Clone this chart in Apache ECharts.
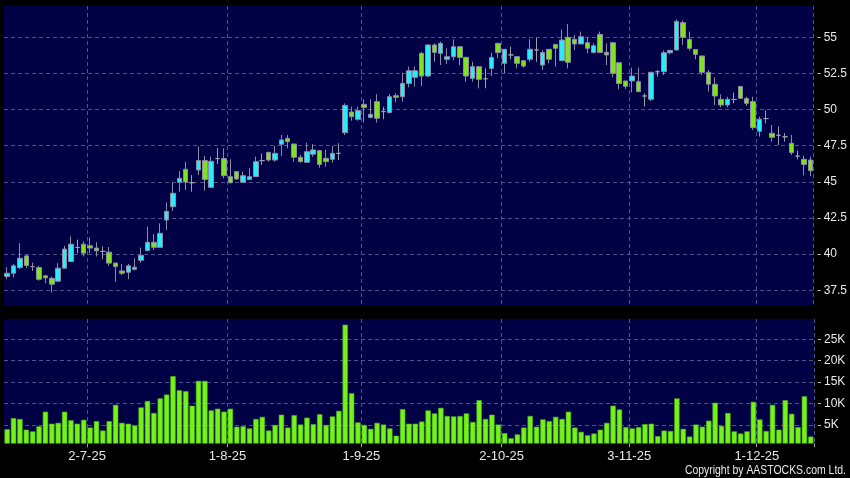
<!DOCTYPE html>
<html>
<head>
<meta charset="utf-8">
<script src="https://cdn.jsdelivr.net/npm/echarts@6/dist/echarts.min.js"></script>
<style>
html,body{margin:0;padding:0;background:#000;}
#chart{width:850px;height:478px;}
</style>
</head>
<body>
<div id="chart"></div>
<script>
// daily candles, 127 trading days (12-6-25 .. 11-12-25)
const opens = [38.45,38.68,39.07,39.88,39.15,39.07,38.50,38.33,38.13,39.03,39.49,40.46,40.69,40.58,40.42,40.19,40.14,39.38,38.84,38.75,
  38.95,39.57,40.24,40.82,40.47,42.36,43.28,44.97,45.87,44.94,45.82,46.47,44.62,46.61,46.61,45.36,45.71,44.97,45.17,45.36,
  46.47,47.04,46.51,47.60,48.01,47.62,46.70,46.35,46.91,47.16,46.63,46.56,46.97,48.40,49.83,49.33,50.36,49.46,50.55,49.86,
  49.79,50.96,50.89,51.81,52.23,53.89,52.32,54.47,53.89,53.48,53.66,54.35,53.61,52.16,52.97,52.13,52.85,54.58,53.20,53.78,
  53.66,53.38,53.48,54.12,53.08,54.17,54.51,53.38,55.00,54.86,54.54,54.63,53.94,55.20,53.96,54.63,53.24,51.98,51.98,51.93,
  50.94,50.71,52.62,52.62,53.93,54.12,56.01,54.85,54.15,53.71,52.58,51.75,50.71,50.32,50.70,51.60,50.76,50.55,48.50,49.38,
  48.36,48.22,48.12,47.67,46.78,46.56,46.51];
const closes = [38.68,39.19,39.72,39.21,39.13,38.26,38.36,37.92,39.03,40.35,40.69,40.46,40.07,40.42,40.23,40.19,39.38,39.14,38.68,39.19,
  39.10,39.92,40.82,40.47,41.44,42.96,44.21,45.25,44.99,44.94,46.47,45.17,46.42,46.61,45.43,44.94,45.20,45.43,45.36,46.40,
  46.47,46.51,46.97,47.90,47.78,46.70,46.40,47.09,47.21,46.21,46.40,46.97,46.97,50.29,49.51,49.93,50.15,49.67,49.40,49.86,
  50.89,50.85,51.81,52.69,52.69,52.32,54.47,53.96,54.58,53.66,54.35,53.61,52.32,52.97,52.09,52.13,53.61,53.94,54.17,53.78,
  53.20,53.01,54.17,54.12,53.94,53.48,54.24,54.81,53.27,54.54,55.04,54.24,54.42,53.94,53.78,52.51,51.80,51.61,52.32,51.24,
  50.94,52.58,52.62,53.93,54.09,56.10,55.00,54.24,53.82,52.58,51.76,50.94,50.32,50.71,50.70,50.78,50.43,48.75,49.33,49.38,
  48.08,48.22,48.12,47.02,46.78,46.21,45.77];
const lows = [38.26,38.40,38.96,39.03,38.84,38.17,37.99,37.34,38.13,39.03,39.49,40.07,39.84,40.07,39.84,39.65,39.19,38.10,38.56,38.26,
  38.86,39.39,40.24,40.29,40.47,41.67,43.00,44.32,44.44,44.32,45.47,44.39,44.62,46.24,45.25,44.90,45.13,44.97,45.17,45.36,
  46.17,46.40,46.40,46.79,47.32,46.40,46.33,46.35,46.74,45.98,46.05,46.33,46.51,48.24,49.23,49.23,49.10,49.40,49.10,49.33,
  49.74,50.50,50.55,51.54,51.58,51.63,52.23,53.31,53.08,53.15,53.43,53.08,51.93,51.93,51.47,51.47,52.32,53.55,52.51,53.48,
  52.85,52.90,53.31,53.31,52.74,53.20,52.97,53.38,52.85,54.12,54.54,53.89,53.89,53.94,53.08,52.23,51.40,51.42,51.19,51.24,
  50.20,50.60,52.28,52.39,53.82,54.12,54.47,54.08,53.48,52.39,51.24,50.32,50.16,50.16,50.43,50.78,50.25,48.59,48.13,49.05,
  47.78,47.55,47.78,46.86,46.56,45.45,45.40];
const highs = [39.10,39.33,40.76,39.95,39.42,39.19,38.56,38.45,39.38,40.58,41.23,41.00,40.88,41.16,40.83,40.53,40.49,39.42,39.33,39.33,
  39.71,40.45,41.90,41.39,42.13,43.58,44.94,45.75,46.38,45.47,47.44,46.79,46.75,47.34,47.32,46.56,45.71,45.71,45.94,46.75,
  46.97,47.09,47.48,48.24,48.24,47.62,46.86,47.71,47.62,47.21,47.21,47.48,47.67,50.43,50.20,50.20,50.71,50.71,51.06,50.20,
  51.06,51.13,52.55,52.97,52.97,54.00,54.51,54.58,54.70,54.24,54.86,54.40,53.66,53.31,52.97,52.85,53.94,54.63,54.17,54.35,
  53.70,53.43,54.86,54.97,54.12,54.17,54.51,55.54,55.92,55.16,55.39,55.00,54.58,55.39,54.58,54.63,53.24,51.98,52.90,52.90,
  51.12,52.58,52.74,54.09,54.14,56.24,56.15,55.40,54.15,53.71,52.74,52.23,51.05,50.89,51.17,51.63,50.89,50.89,49.51,49.93,
  48.94,48.82,48.36,48.24,47.16,46.80,46.74];
// volume, thousands of shares
const volumes = [4.0,6.6,6.4,3.9,3.5,4.7,8.1,5.3,5.5,8.1,6.1,5.3,6.2,4.4,5.9,3.7,5.9,9.7,5.5,5.3,
  4.9,9.1,10.6,7.8,11.2,12.1,16.4,13.1,12.9,9.5,15.3,15.3,8.4,8.8,8.1,8.8,4.6,4.7,4.2,6.4,
  6.9,3.7,5.0,7.4,4.4,7.3,5.1,6.7,5.2,7.5,5.0,7.0,8.3,28.4,12.4,5.6,5.0,4.1,5.5,5.1,
  4.2,2.5,8.7,5.3,5.3,5.8,8.4,7.7,9.0,7.1,7.0,7.1,7.7,5.7,10.8,6.4,7.4,5.1,3.1,1.9,
  2.8,4.4,7.1,4.6,6.3,5.9,6.9,6.4,8.1,4.4,3.4,2.6,3.0,3.9,5.5,9.5,8.6,4.5,4.2,4.5,
  5.2,5.3,2.4,3.7,3.6,11.2,4.1,2.3,5.1,4.6,6.0,10.2,4.8,7.8,3.5,3.0,3.5,10.4,6.3,3.6,
  9.7,3.9,10.8,7.6,4.5,11.7,2.3];

const priceTicks = [37.5, 40, 42.5, 45, 47.5, 50, 52.5, 55];
const volumeTicks = [5, 10, 15, 20, 25];
const dateIdx = [13, 35, 56, 78, 98, 118];
const dateText = ['2-7-25', '1-8-25', '1-9-25', '2-10-25', '3-11-25', '1-12-25'];

const days = opens.map((_, i) => i);
const candles = opens.map((o, i) => [o, closes[i], lows[i], highs[i]]);

const FONT = "'Liberation Sans', Arial, sans-serif";
const gridLine = { color: '#50508c', width: 1, type: [4, 3] };
const showDate = (idx) => dateIdx.indexOf(idx) >= 0;

const chart = echarts.init(document.getElementById('chart'));
chart.setOption({
  animation: false,
  backgroundColor: '#000',
  grid: [
    { left: 4, right: 36, top: 6, height: 300, show: true, backgroundColor: '#000044', borderWidth: 0 },
    { left: 4, right: 36, top: 319, height: 124.3, show: true, backgroundColor: '#000044', borderWidth: 0 }
  ],
  xAxis: [
    {
      gridIndex: 0, type: 'category', data: days,
      axisLine: { show: false }, axisTick: { show: false }, axisLabel: { show: false },
      splitLine: { show: true, interval: showDate, lineStyle: gridLine }
    },
    {
      gridIndex: 1, type: 'category', data: days,
      axisLine: { show: false },
      axisTick: { show: true, interval: showDate, length: 4, lineStyle: { color: '#a0a0a0' } },
      axisLabel: {
        interval: showDate, color: '#e8e8e8', fontSize: 13, fontFamily: FONT, margin: 7,
        padding: [0, 6, 0, 0],
        formatter: (v, idx) => dateText[dateIdx.indexOf(idx)] || ''
      },
      splitLine: { show: true, interval: showDate, lineStyle: gridLine }
    }
  ],
  yAxis: [
    {
      gridIndex: 0, type: 'value', position: 'right', offset: 4,
      min: 36.414, max: 57.165,
      axisLine: { show: false },
      axisTick: { show: true, length: 3, customValues: priceTicks, lineStyle: { color: '#c0c0c0' } },
      axisLabel: { customValues: priceTicks, color: '#e8e8e8', fontSize: 12, fontFamily: FONT, margin: 6 },
      splitLine: { show: true, lineStyle: gridLine }
    },
    {
      gridIndex: 1, type: 'value', position: 'right', offset: 4,
      min: 0.72, max: 29.73,
      axisLine: { show: false },
      axisTick: { show: true, length: 3, customValues: volumeTicks, lineStyle: { color: '#c0c0c0' } },
      axisLabel: { customValues: volumeTicks, color: '#e8e8e8', fontSize: 12, fontFamily: FONT, margin: 6,
        formatter: (v) => v + 'K' },
      splitLine: { show: true, lineStyle: gridLine }
    }
  ],
  series: [
    {
      type: 'candlestick', xAxisIndex: 0, yAxisIndex: 0, data: candles, barWidth: 5,
      itemStyle: {
        color: '#28ecfa', color0: '#7fe41c',
        borderColor: '#8c8ca4', borderColor0: '#8c8ca4', borderColorDoji: '#a0a0a8', borderWidth: 1
      }
    },
    {
      type: 'bar', xAxisIndex: 1, yAxisIndex: 1, data: volumes, barWidth: '84%',
      itemStyle: { color: '#74f21a', borderColor: '#4caa18', borderWidth: 0.6 }
    }
  ],
  graphic: [
    { type: 'text', x: 846, y: 471, scaleX: 0.87,
      style: { x: 0, y: 0, text: 'Copyright by AASTOCKS.com Ltd.', fill: '#e8e8e8', fontSize: 12,
        fontFamily: FONT, textAlign: 'right', textVerticalAlign: 'middle' } }
  ]
});
</script>
</body>
</html>
